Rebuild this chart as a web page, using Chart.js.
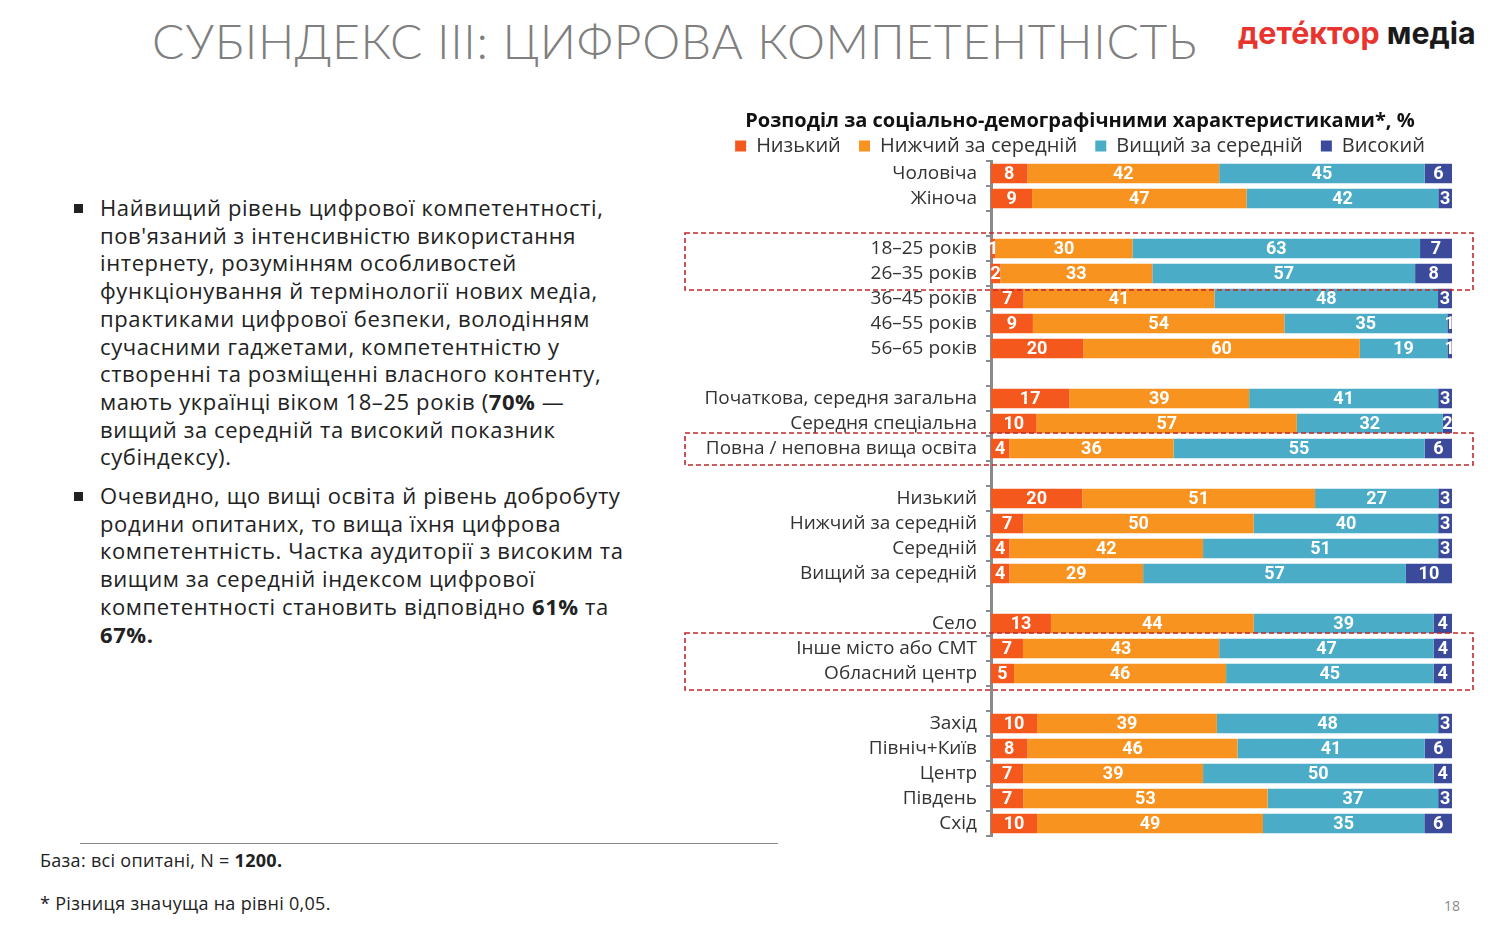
<!DOCTYPE html>
<html lang="uk">
<head>
<meta charset="utf-8">
<script src="https://cdn.jsdelivr.net/npm/chart.js@4.4.0/dist/chart.umd.min.js"></script>
<style>
  html, body { margin: 0; padding: 0; background: #fff; }
  body { width: 1500px; height: 938px; position: relative; overflow: hidden; font-family: "Open Sans", sans-serif; }
  #title { position: absolute; left: 152px; top: 12px; font-family: "Lato", sans-serif; font-weight: 300; font-size: 48px; color: #7f7f7f; white-space: nowrap; letter-spacing: 0.7px; }
  #logo { position: absolute; left: 1238px; top: 15px; font-family: "Inter", sans-serif; font-weight: 700; font-size: 30.4px; white-space: nowrap; }
  #logo .red { color: #e8342f; }
  #logo .blk { color: #1a1a1a; }
  .bullets { position: absolute; left: 100px; font-size: 22px; line-height: 27.7px; color: #222; white-space: nowrap; letter-spacing: 0.6px; }
  .bullets::before { content: ""; position: absolute; left: -26px; top: 10px; width: 9px; height: 9px; background: #222; }
  #b1 { top: 194px; }
  #b2 { top: 482px; }
  #hr { position: absolute; left: 80px; top: 843px; width: 698px; height: 1px; background: #888; }
  .note { position: absolute; left: 40px; font-size: 18px; color: #222; white-space: nowrap; letter-spacing: 0.3px; }
  #page { position: absolute; left: 1444px; top: 896px; font-size: 14px; color: #8a8a8a; }
  #chartBox { position: absolute; left: 680px; top: 100px; width: 800px; height: 745px; }
</style>
</head>
<body>
<div id="title">СУБІНДЕКС ІІІ: ЦИФРОВА КОМПЕТЕНТНІСТЬ</div>
<div id="logo"><span class="red">дете́ктор</span> <span class="blk">медіа</span></div>

<div class="bullets" id="b1">Найвищий рівень цифрової компетентності,<br>пов'язаний з інтенсивністю використання<br>інтернету, розумінням особливостей<br>функціонування й термінології нових медіа,<br>практиками цифрової безпеки, володінням<br>сучасними гаджетами, компетентністю у<br>створенні та розміщенні власного контенту,<br>мають українці віком 18–25 років (<b>70%</b> —<br>вищий за середній та високий показник<br>субіндексу).</div>
<div class="bullets" id="b2">Очевидно, що вищі освіта й рівень добробуту<br>родини опитаних, то вища їхня цифрова<br>компетентність. Частка аудиторії з високим та<br>вищим за середній індексом цифрової<br>компетентності становить відповідно <b>61%</b> та<br><b>67%.</b></div>

<div id="hr"></div>
<div class="note" style="top:848px">База: всі опитані, N = <b>1200.</b></div>
<div class="note" style="top:891px">* Різниця значуща на рівні 0,05.</div>
<div id="page">18</div>

<div id="chartBox"><canvas id="chart"></canvas></div>

<script>
// empty strings are the spacer rows between the groups
const categories = [
  "Чоловіча", "Жіноча", "",
  "18–25 років", "26–35 років", "36–45 років", "46–55 років", "56–65 років", "",
  "Початкова, середня загальна", "Середня спеціальна", "Повна / неповна вища освіта", "",
  "Низький", "Нижчий за середній", "Середній", "Вищий за середній", "",
  "Село", "Інше місто або СМТ", "Обласний центр", "",
  "Захід", "Північ+Київ", "Центр", "Південь", "Схід"
];

const seriesNames = ["Низький", "Нижчий за середній", "Вищий за середній", "Високий"];

const low      = [8, 9, null, 1, 2, 7, 9, 20, null, 17, 10, 4, null, 20, 7, 4, 4, null, 13, 7, 5, null, 10, 8, 7, 7, 10];
const belowAvg = [42, 47, null, 30, 33, 41, 54, 60, null, 39, 57, 36, null, 51, 50, 42, 29, null, 44, 43, 46, null, 39, 46, 39, 53, 49];
const aboveAvg = [45, 42, null, 63, 57, 48, 35, 19, null, 41, 32, 55, null, 27, 40, 51, 57, null, 39, 47, 45, null, 48, 41, 50, 37, 35];
const high     = [6, 3, null, 7, 8, 3, 1, 1, null, 3, 2, 6, null, 3, 3, 3, 10, null, 4, 4, 4, null, 3, 6, 4, 3, 6];

const colors = ["#f4581d", "#f7931e", "#4aacc6", "#3b4a9b"];

// rows framed by the red dashed boxes
const highlighted = [[3, 4], [11, 11], [19, 20]];

const raw = [low, belowAvg, aboveAvg, high];

// 100% stacked: each row is drawn as shares of its own total
const totals = categories.map((c, i) => raw.reduce((s, arr) => s + (arr[i] || 0), 0));
const shares = raw.map(arr => arr.map((v, i) => v == null ? null : v / totals[i] * 100));

const valueLabels = {
  id: "valueLabels",
  afterDatasetsDraw(chart) {
    const ctx = chart.ctx;
    ctx.save();
    ctx.fillStyle = "#fff";
    ctx.font = "bold 18px 'Liberation Sans Narrow', 'Roboto', sans-serif";
    ctx.textAlign = "center";
    ctx.textBaseline = "middle";
    chart.data.datasets.forEach((ds, di) => {
      const meta = chart.getDatasetMeta(di);
      meta.data.forEach((bar, i) => {
        const v = raw[di][i];
        if (v == null) return;
        const p = bar.getCenterPoint();
        ctx.fillText(String(v), p.x, p.y + 1);
      });
    });
    ctx.restore();
  }
};

const dashedBoxes = {
  id: "dashedBoxes",
  afterDraw(chart) {
    const ctx = chart.ctx;
    const y = chart.scales.y;
    const area = chart.chartArea;
    ctx.save();
    ctx.strokeStyle = "#c0282d";
    ctx.lineWidth = 1.6;
    ctx.setLineDash([5, 3]);
    highlighted.forEach(([a, b]) => {
      const top = y.getPixelForValue(a) - 15.5;
      const bottom = y.getPixelForValue(b) + 16.5;
      const left = area.left - 306;
      const right = area.right + 21;
      ctx.strokeRect(left, top, right - left, bottom - top);
    });
    ctx.restore();
  }
};

// title and legend sit centred over the whole block, not over the label column
const shiftHeader = {
  id: "shiftHeader",
  afterLayout(chart) {
    [chart.titleBlock, chart.legend].forEach(box => {
      if (box) box.left += 28;
    });
  }
};

new Chart(document.getElementById("chart"), {
  type: "bar",
  data: {
    labels: categories,
    datasets: seriesNames.map((name, i) => ({
      label: name,
      data: shares[i],
      backgroundColor: colors[i],
      borderWidth: 0,
      categoryPercentage: 0.78,
      barPercentage: 1
    }))
  },
  options: {
    indexAxis: "y",
    responsive: true,
    maintainAspectRatio: false,
    animation: false,
    layout: { padding: { left: 0, right: 28, top: 0, bottom: 9 } },
    plugins: {
      title: {
        display: true,
        text: "Розподіл за соціально-демографічними характеристиками*, %",
        color: "#111",
        font: { family: "'Open Sans', sans-serif", size: 20, weight: "bold" },
        padding: { top: 9, bottom: 0 }
      },
      legend: {
        display: true,
        position: "top",
        maxHeight: 28,
        labels: {
          color: "#333",
          font: { family: "'Open Sans', sans-serif", size: 20 },
          boxWidth: 11,
          boxHeight: 11,
          padding: 3,
          // a little extra room after each item but the last
          generateLabels(chart) {
            const items = Chart.defaults.plugins.legend.labels.generateLabels(chart);
            items.forEach((it, i) => {
              if (i < items.length - 1) it.text = it.text + "\u2002 ";
            });
            return items;
          }
        }
      },
      tooltip: { enabled: false }
    },
    scales: {
      x: {
        stacked: true,
        min: 0,
        max: 100,
        display: false
      },
      y: {
        stacked: true,
        grid: {
          display: true,
          drawOnChartArea: false,
          color: "#8a8a8a",
          lineWidth: 2,
          tickLength: 5,
          offset: true
        },
        border: { display: true, color: "#8a8a8a", width: 3 },
        ticks: {
          color: "#333",
          font: { family: "'Open Sans', sans-serif", size: 19 },
          padding: 9,
          autoSkip: false
        },
        afterFit(scale) {
          scale.width = 311;
          scale.paddingTop = 0;
          scale.paddingBottom = 0;
        }
      }
    }
  },
  plugins: [valueLabels, dashedBoxes, shiftHeader]
});
</script>
</body>
</html>
